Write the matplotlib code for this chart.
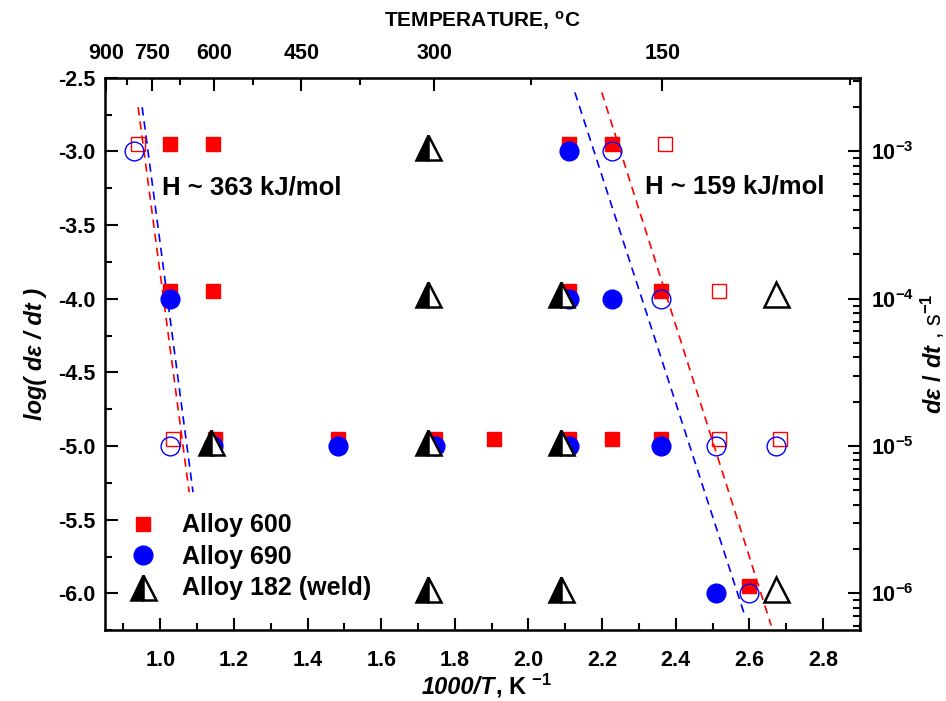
import matplotlib
matplotlib.use("Agg")
import matplotlib.pyplot as plt
from matplotlib.ticker import MultipleLocator, FixedLocator, FixedFormatter, LogLocator, NullFormatter
from matplotlib.offsetbox import TextArea, HPacker, AnchoredOffsetbox

plt.rcParams['font.family'] = ['Liberation Sans', 'DejaVu Sans']
plt.rcParams['font.weight'] = 'bold'
plt.rcParams['axes.unicode_minus'] = False
plt.rcParams['mathtext.fontset'] = 'custom'
plt.rcParams['mathtext.rm'] = 'Liberation Sans:bold'
plt.rcParams['mathtext.it'] = 'Liberation Sans:italic:bold'
plt.rcParams['mathtext.bf'] = 'Liberation Sans:bold'

# Alloy 600 (squares), x = 1000/T, y = log strain rate
a600_x = [1.027, 1.143, 2.11, 2.226, 1.027, 1.143, 2.11, 2.36,
          1.149, 1.482, 1.745, 1.907, 2.11, 2.226, 2.36, 2.60]
a600_y = [-2.95, -2.95, -2.95, -2.95, -3.95, -3.95, -3.95, -3.95,
          -4.95, -4.95, -4.95, -4.95, -4.95, -4.95, -4.95, -5.95]
a600_open_x = [0.94, 2.37, 2.516, 1.035, 2.516, 2.684]
a600_open_y = [-2.95, -2.95, -3.95, -4.95, -4.95, -4.95]

# Alloy 690 (circles)
a690_x = [2.11, 1.027, 2.11, 2.226, 1.143, 1.482, 1.745, 2.11, 2.36, 2.508]
a690_y = [-3.0, -4.0, -4.0, -4.0, -5.0, -5.0, -5.0, -5.0, -5.0, -6.0]
a690_open_x = [0.93, 2.226, 2.36, 1.027, 2.508, 2.673, 2.60]
a690_open_y = [-3.0, -3.0, -4.0, -5.0, -5.0, -5.0, -6.0]

# Alloy 182 weld (triangles)
a182_x = [1.726, 1.726, 2.088, 1.138, 1.726, 2.088, 1.726, 2.088]
a182_y = [-2.97, -3.97, -3.97, -4.97, -4.97, -4.97, -5.97, -5.97]
a182_open_x = [2.673, 2.673]
a182_open_y = [-3.97, -5.97]

# activation energy fit lines
fit600_hi_x = [0.940, 1.0785]
fit600_hi_y = [-2.70, -5.313]
fit690_hi_x = [0.951, 1.089]
fit690_hi_y = [-2.70, -5.313]
fit600_lo_x = [2.199, 2.659]
fit600_lo_y = [-2.599, -6.218]
fit690_lo_x = [2.126, 2.589]
fit690_lo_y = [-2.599, -6.163]

temp_major = [900, 750, 600, 450, 300, 150]
temp_minor = [825, 675, 525, 375, 225, 75]

fig = plt.figure(figsize=(9.46, 7.01), dpi=100)
ax = fig.add_axes([0.111, 0.101, 0.798, 0.788])

# dashed fits
for fx, fy, c in [(fit600_hi_x, fit600_hi_y, 'red'), (fit690_hi_x, fit690_hi_y, 'blue'),
                  (fit600_lo_x, fit600_lo_y, 'red'), (fit690_lo_x, fit690_lo_y, 'blue')]:
    ax.plot(fx, fy, color=c, ls=(0, (5, 3.5)), lw=1.2, zorder=1)

ax.plot(a600_x, a600_y, 's', color='red', ms=10.5, mec='red', zorder=3, label='Alloy 600')
ax.plot(a600_open_x, a600_open_y, 's', mfc='none', mec='red', ms=10, mew=1, zorder=3)
ax.plot(a690_x, a690_y, 'o', color='blue', ms=13.5, zorder=4, label='Alloy 690')
ax.plot(a690_open_x, a690_open_y, 'o', mfc='none', mec='blue', ms=13.5, mew=1, zorder=4)
ax.plot(a182_x, a182_y, '^', fillstyle='left', mfc='black', mfcalt='white', mec='black',
        ms=18, mew=1.8, zorder=5, label='Alloy 182 (weld)')
ax.plot(a182_open_x, a182_open_y, '^', mfc='white', mec='black', ms=18, mew=1.8, zorder=5)

ax.text(1.005, -3.245, 'H ~ 363 kJ/mol', fontsize=18.5, fontweight='bold', va='center')
ax.text(2.316, -3.24, 'H ~ 159 kJ/mol', fontsize=18.5, fontweight='bold', va='center')

ax.set_xlim(0.85, 2.9)
ax.set_ylim(-6.25, -2.5)
ax.set_xticks([1.0, 1.2, 1.4, 1.6, 1.8, 2.0, 2.2, 2.4, 2.6, 2.8])
ax.xaxis.set_minor_locator(MultipleLocator(0.1))
ax.yaxis.set_major_locator(MultipleLocator(0.5))
ax.yaxis.set_minor_locator(MultipleLocator(0.25))
ax.tick_params(which='both', direction='in', width=1.5, labelsize=15.5)
ax.tick_params(which='major', length=9)
ax.tick_params(which='minor', length=5)
ax.tick_params(axis='x', pad=14)
ax.tick_params(axis='y', pad=7)
for s in ax.spines.values():
    s.set_linewidth(1.8)

ax.set_ylabel('log( d\u03b5 / dt )', fontsize=17, fontstyle='italic', fontweight='bold', labelpad=8)

# bottom label: italic "1000/T", upright ", K^-1"
xl = HPacker(children=[
    TextArea('1000/T', textprops=dict(fontsize=17, fontstyle='italic', fontweight='bold')),
    TextArea(r', K $^{-1}$', textprops=dict(fontsize=17, fontweight='bold')),
], align='baseline', pad=0, sep=0)
fig.add_artist(AnchoredOffsetbox(loc='center', child=xl, frameon=False, pad=0, borderpad=0,
                                 bbox_to_anchor=(0.515, 0.022), bbox_transform=fig.transFigure))

# top axis: temperature in C
top = ax.secondary_xaxis('top', functions=(lambda x: 1000.0 / x - 273.15,
                                           lambda t: 1000.0 / (t + 273.15)))
top.xaxis.set_major_locator(FixedLocator(temp_major))
top.xaxis.set_minor_locator(FixedLocator(temp_minor))
top.xaxis.set_major_formatter(FixedFormatter([str(t) for t in temp_major]))
top.tick_params(which='both', direction='in', width=1.5, labelsize=15.5, pad=10)
top.tick_params(which='major', length=9)
top.tick_params(which='minor', length=5)
top.set_xlabel(r'TEMPERATURE, $^{\mathrm{o}}$C', fontsize=15, fontweight='bold', labelpad=12)

# right axis: strain rate
ax2 = ax.twinx()
ax2.set_yscale('log')
ax2.set_ylim(10 ** -6.25, 10 ** -2.5)
ax2.yaxis.set_major_locator(FixedLocator([1e-6, 1e-5, 1e-4, 1e-3]))
ax2.yaxis.set_major_formatter(FixedFormatter([r'10$^{-6}$', r'10$^{-5}$', r'10$^{-4}$', r'10$^{-3}$']))
ax2.yaxis.set_minor_locator(LogLocator(base=10, subs=range(2, 10), numticks=20))
ax2.yaxis.set_minor_formatter(NullFormatter())
ax2.tick_params(which='both', direction='in', width=1.5, labelsize=15.5, pad=8)
ax2.tick_params(which='major', length=9)
ax2.tick_params(which='minor', length=5)
ax2.set_ylabel(r'$\mathit{d\varepsilon\ /\ dt}$ , s$^{-1}$', fontsize=17, labelpad=3)

leg = ax.legend(loc='lower left', bbox_to_anchor=(0.012, 0.036), frameon=False, fontsize=18,
                handlelength=1.5, handletextpad=0.8, labelspacing=0.3, borderaxespad=0,
                borderpad=0.4)

fig.savefig('out.png', dpi=100)
